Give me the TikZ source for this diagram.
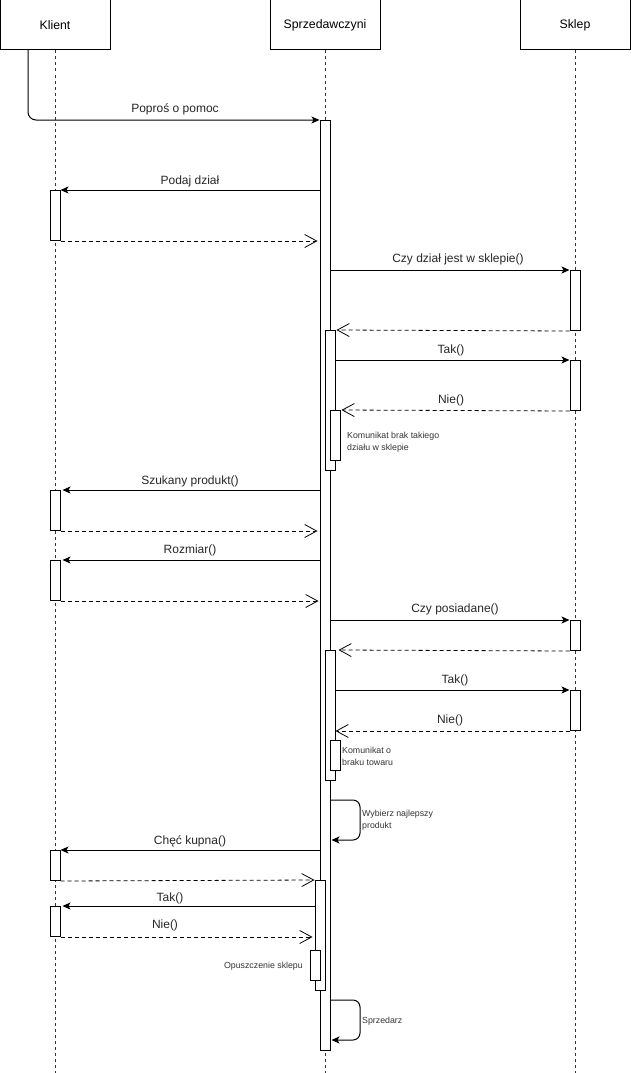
\documentclass[tikz,border=0pt]{standalone}
\usepackage{fontspec}
\setmainfont{Liberation Sans}
\usetikzlibrary{arrows.meta}
\begin{document}
\begin{tikzpicture}[x=1pt,y=-1pt,
  head/.style={draw, fill=white, line width=1pt, minimum width=110pt, minimum height=50pt, inner sep=0pt, font=\fontsize{12.3}{14}\selectfont},
  life/.style={draw, line width=0.8pt, dash pattern=on 3pt off 3pt, black!80},
  act/.style={draw, fill=white, line width=1pt, minimum width=10pt, inner sep=0pt, anchor=north},
  msg/.style={draw, line width=1pt, -{Stealth[length=8pt,width=7pt,inset=2pt]}},
  ret/.style={draw, line width=0.8pt, dash pattern=on 4pt off 3pt, -{Straight Barb[length=12pt,width=13pt,line width=0.8pt]}},
  lbl/.style={inner sep=0pt, font=\fontsize{12}{14}\selectfont, text=black!85},
  small/.style={inner sep=0pt, font=\fontsize{8.8}{12}\selectfont, align=left, text=black!80}
]
\useasboundingbox (0,0) rectangle (631,1073);
% headers
\node[head] (hK) at (55,25) {Klient};
\node[head] (hS) at (325,25) {Sprzedawczyni};
\node[head] (hT) at (575,25) {Sklep};
\coordinate (eK) at (55,1073);
\coordinate (eS) at (325,1073);
\coordinate (eT) at (575,1073);
\draw[life] (hK.south) -- (eK);
\draw[life] (hS.south) -- (eS);
\draw[life] (hT.south) -- (eT);
% activations
\node[act, minimum height=930pt] (S) at (325,120) {};
\node[act, minimum height=50pt] (K1) at (55,190) {};
\node[act, minimum height=60pt] (T1) at (575,270) {};
\node[act, minimum height=140pt] (S2) at (330,330) {};
\node[act, minimum height=50pt] (T2) at (575,360) {};
\node[act, minimum height=50pt] (S3) at (335,410) {};
\node[act, minimum height=40pt] (K2) at (55,490) {};
\node[act, minimum height=40pt] (K3) at (55,560) {};
\node[act, minimum height=30pt] (T3) at (575,620) {};
\node[act, minimum height=130pt] (S4) at (330,650) {};
\node[act, minimum height=40pt] (T4) at (575,690) {};
\node[act, minimum height=30pt] (S5) at (335,740) {};
\node[act, minimum height=30pt] (K4) at (55,850) {};
\node[act, minimum height=110pt] (S6) at (320,880) {};
\node[act, minimum height=30pt] (K5) at (55,906) {};
\node[act, minimum height=30pt] (S7) at (315,950) {};
% messages
\coordinate (c0) at (28,50);
\draw[msg, rounded corners=8pt] (c0) |- (S.north west);
\node[lbl] (l1) at (175,109) {Poproś o pomoc};
\draw[msg] (S.west |- K1.north) -- (K1.north east);
\node[lbl] (l2) at (190,181) {Podaj dział};
\draw[ret] (K1.south east) -- ([xshift=-2pt]S.west |- K1.south);
\draw[msg] (S.east |- T1.north) -- (T1.north west);
\node[lbl] (l3) at (458,259) {Czy dział jest w sklepie()};
\draw[ret] (T1.south west) -- ([xshift=1pt]S2.north east);
\draw[msg] (S2.east |- T2.north) -- (T2.north west);
\node[lbl] (l4) at (451,350) {Tak()};
\draw[ret] (T2.south west) -- ([xshift=1pt]S3.north east);
\node[lbl] (l5) at (451,400) {Nie()};
\node[small, anchor=west] (n1) at (347,442) {Komunikat brak takiego\\działu w sklepie};
\draw[msg] (S.west |- K2.north) -- ([xshift=2pt]K2.north east);
\node[lbl] (l6) at (190,481) {Szukany produkt()};
\draw[ret] (K2.south east) -- ([xshift=-2pt]S.west |- K2.south);
\draw[msg] (S.west |- K3.north) -- ([xshift=2pt]K3.north east);
\node[lbl] (l7) at (190,550) {Rozmiar()};
\draw[ret] (K3.south east) -- ([xshift=-1pt]S.west |- K3.south);
\draw[msg] (S.east |- T3.north) -- (T3.north west);
\node[lbl] (l8) at (455,609) {Czy posiadane()};
\draw[ret] (T3.south west) -- ([xshift=3pt]S4.north east);
\draw[msg] (S4.east |- T4.north) -- (T4.north west);
\node[lbl] (l9) at (455,680) {Tak()};
\draw[ret] (T4.south west) -- (S4.east |- T4.south);
\node[lbl] (l10) at (450,720) {Nie()};
\node[small, anchor=west] (n2) at (342,756) {Komunikat o\\braku towaru};
% self message 1
\coordinate (w1) at (S.east |- 0,800);
\coordinate (w2) at (360,800);
\coordinate (w3) at (360,840);
\coordinate (w4) at ([xshift=1pt]S.east |- 0,840);
\draw[msg, rounded corners=7pt] (w1) -- (w2) -- (w3) -- (w4);
\node[small, anchor=west] (n3) at (362,820) {Wybierz najlepszy\\produkt};
\draw[msg] (S.west |- K4.north) -- (K4.north east);
\node[lbl] (l11) at (190,841) {Chęć kupna()};
\draw[ret] (K4.south east) -- (S6.north west);
\draw[msg] (S6.west |- K5.north) -- ([xshift=2pt]K5.north east);
\node[lbl] (l12) at (170,898) {Tak()};
\draw[ret] (K5.south east) -- ([xshift=-2pt]S6.west |- K5.south);
\node[lbl] (l13) at (165,925) {Nie()};
\node[small, anchor=east] (n4) at (303,966) {Opuszczenie sklepu};
% self message 2
\coordinate (v1) at (S.east |- 0,1000);
\coordinate (v2) at (360,1000);
\coordinate (v3) at (360,1040);
\coordinate (v4) at ([xshift=1pt]S.east |- 0,1040);
\draw[msg, rounded corners=7pt] (v1) -- (v2) -- (v3) -- (v4);
\node[small, anchor=west] (n5) at (362,1021) {Sprzedarz};
\end{tikzpicture}
\end{document}
